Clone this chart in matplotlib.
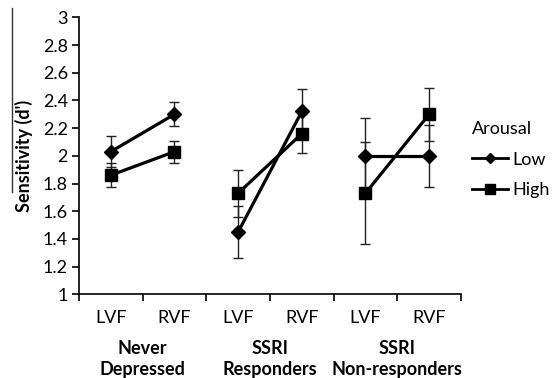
import numpy as np
import matplotlib
matplotlib.use('Agg')
import matplotlib.pyplot as plt
from matplotlib.lines import Line2D

plt.rcParams['font.family'] = ['Lato', 'DejaVu Sans']

groups = ['Never\nDepressed', 'SSRI\nResponders', 'SSRI\nNon-responders']
fields = ['LVF', 'RVF']

# sensitivity (d') per group, [LVF, RVF]
low_vals = [[2.03, 2.30], [1.45, 2.32], [2.00, 2.00]]
low_err = [[0.11, 0.085], [0.185, 0.16], [0.27, 0.225]]
high_vals = [[1.86, 2.03], [1.73, 2.16], [1.73, 2.30]]
high_err = [[0.085, 0.08], [0.17, 0.14], [0.37, 0.19]]

fs = 13

fig = plt.figure(figsize=(5.54, 3.78), dpi=100)
ax = fig.add_axes([0.1426, 0.2214, 0.6895, 0.7328])

for g in range(len(groups)):
    x = np.array([2 * g, 2 * g + 1])
    ax.errorbar(x, low_vals[g], yerr=low_err[g], fmt='none', ecolor='#222222',
                elinewidth=1, capsize=3.5, capthick=1, zorder=2)
    ax.errorbar(x, high_vals[g], yerr=high_err[g], fmt='none', ecolor='#222222',
                elinewidth=1, capsize=3.5, capthick=1, zorder=2)
    ax.plot(x, low_vals[g], color='black', lw=2.3, marker='D', ms=7, zorder=3)
    ax.plot(x, high_vals[g], color='black', lw=2.3, marker='s', ms=9, zorder=3)

ax.set_xlim(-0.5, 5.5)
ax.set_ylim(1, 3)
yt = np.round(np.arange(1, 3.01, 0.2), 1)
ax.set_yticks(yt)
ax.set_yticklabels([f'{v:g}' for v in yt], fontsize=fs)
ax.set_xticks(np.arange(-0.5, 5.6, 1))
ax.set_xticklabels([])
ax.set_xticks(np.arange(6), minor=True)
ax.set_xticklabels(fields * 3, minor=True, fontsize=fs)
ax.tick_params(axis='x', which='minor', length=0, pad=11)
ax.tick_params(axis='x', which='major', length=5, width=1.2, direction='out')
ax.tick_params(axis='y', length=5, width=1.2, direction='out', pad=3)
for s in ['top', 'right']:
    ax.spines[s].set_visible(False)
ax.spines['left'].set_linewidth(1.2)
ax.spines['bottom'].set_linewidth(1.2)

for g, name in enumerate(groups):
    ax.text(2 * g + 0.5, -0.165, name, transform=ax.get_xaxis_transform(),
            ha='center', va='top', fontsize=fs, fontweight='bold',
            linespacing=1.25)

ax.set_ylabel("Sensitivity (d')", fontsize=fs, fontweight='bold', labelpad=7)
fig.add_artist(Line2D([12 / 554, 12 / 554], [1 - 8 / 378, 1 - 192 / 378],
                      transform=fig.transFigure, color='#333333', lw=1))

handles = [Line2D([], [], color='black', lw=2, marker='D', ms=5),
           Line2D([], [], color='black', lw=2, marker='s', ms=7)]
fig.legend(handles, ['Low', 'High'], loc='upper left',
           bbox_to_anchor=(0.836, 0.703), frameon=False, borderpad=0,
           title='Arousal', fontsize=fs, title_fontsize=fs,
           handlelength=2.0, handletextpad=0.2, labelspacing=0.8,
           alignment='left')

fig.savefig('out.png', dpi=100)
